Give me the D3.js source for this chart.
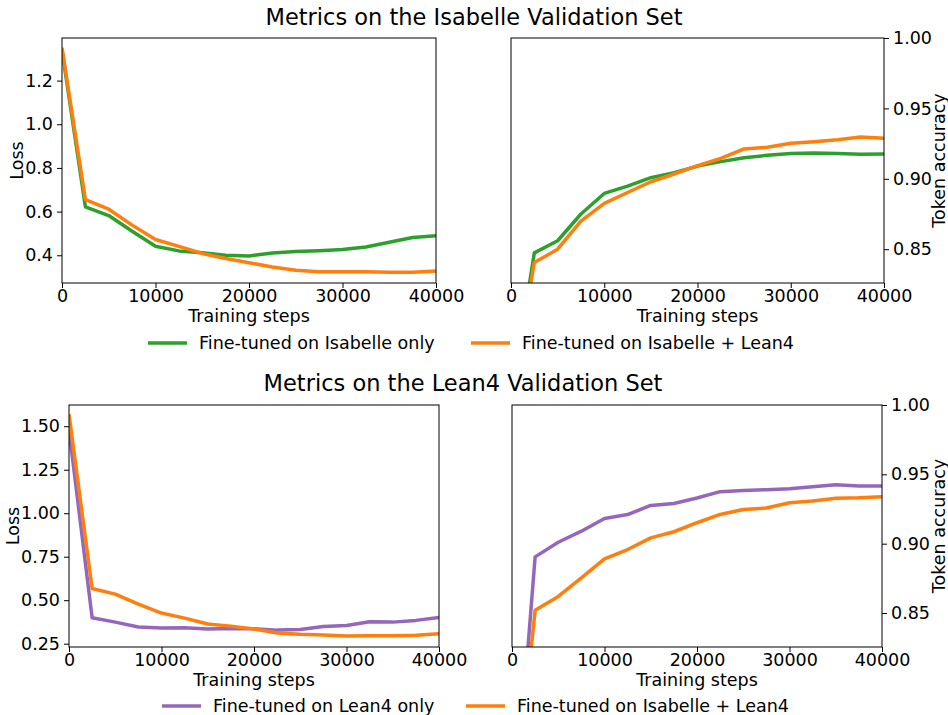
<!DOCTYPE html>
<html>
<head>
<meta charset="utf-8">
<script src="https://cdn.jsdelivr.net/npm/d3@7"></script>
<style>
  body { margin: 0; background: #fff; }
  text { font-family: "DejaVu Sans", sans-serif; fill: #000; }
  .tick text { font-size: 17.5px; }
  .domain { display: none; }
</style>
</head>
<body>
<div id="chart"></div>
<script>
// training steps (every 2500)
const steps = [0, 2500, 5000, 7500, 10000, 12500, 15000, 17500, 20000, 22500, 25000, 27500, 30000, 32500, 35000, 37500, 40000]

// Isabelle validation set
const isaLossIsaOnly  = [1.34, 0.622, 0.582, 0.51, 0.441, 0.42, 0.412, 0.40, 0.397, 0.41, 0.417, 0.421, 0.426, 0.438, 0.46, 0.481, 0.489]
const isaLossBoth     = [1.35, 0.655, 0.611, 0.538, 0.472, 0.441, 0.408, 0.385, 0.366, 0.346, 0.331, 0.325, 0.325, 0.325, 0.322, 0.322, 0.328]
const isaAccIsaOnly   = [0.742, 0.8474, 0.856, 0.875, 0.8896, 0.8948, 0.9008, 0.9043, 0.909, 0.9122, 0.915, 0.9167, 0.9179, 0.9183, 0.9179, 0.9174, 0.9176]
const isaAccBoth      = [0.742, 0.8405, 0.85, 0.870, 0.8825, 0.8903, 0.8979, 0.9034, 0.9093, 0.9145, 0.9212, 0.9224, 0.9252, 0.9264, 0.9278, 0.9297, 0.9288]

// Lean4 validation set
const leanLossLeanOnly = [1.48, 0.399, 0.374, 0.346, 0.34, 0.342, 0.334, 0.338, 0.336, 0.328, 0.332, 0.349, 0.355, 0.376, 0.374, 0.384, 0.401]
const leanLossBoth     = [1.569, 0.567, 0.535, 0.477, 0.426, 0.397, 0.363, 0.351, 0.334, 0.311, 0.304, 0.30, 0.294, 0.296, 0.296, 0.298, 0.307]
const leanAccLeanOnly  = [0.68, 0.8905, 0.901, 0.909, 0.9182, 0.921, 0.9276, 0.929, 0.9329, 0.9375, 0.9384, 0.9389, 0.9396, 0.9411, 0.9425, 0.9416, 0.9416]
const leanAccBoth      = [0.69, 0.852, 0.862, 0.8753, 0.889, 0.8958, 0.9042, 0.9086, 0.9151, 0.9211, 0.9247, 0.9257, 0.9295, 0.9307, 0.9327, 0.9331, 0.9339]

const xTicks = [0, 10000, 20000, 30000, 40000]
const lossTicksIsa = [0.4, 0.6, 0.8, 1.0, 1.2]
const lossTicksLean = [0.25, 0.50, 0.75, 1.00, 1.25, 1.50]
const accTicks = [0.85, 0.90, 0.95, 1.00]

const titles = ["Metrics on the Isabelle Validation Set", "Metrics on the Lean4 Validation Set"]
const legendIsa = ["Fine-tuned on Isabelle only", "Fine-tuned on Isabelle + Lean4"]
const legendLean = ["Fine-tuned on Lean4 only", "Fine-tuned on Isabelle + Lean4"]

const green = "#2ca02c", orange = "#ff7f0e", purple = "#9467bd"

const svg = d3.select('#chart').append('svg')
  .attr('width', 948)
  .attr('height', 715)

const panels = [
  {x0: 62, x1: 436, y0: 38, y1: 283, dom: [0.273, 1.395], ticks: lossTicksIsa, fmt: d3.format('.1f'), side: 'left', label: 'Loss', labelX: 17,
   series: [[isaLossIsaOnly, green], [isaLossBoth, orange]]},
  {x0: 511, x1: 884, y0: 38, y1: 283, dom: [0.826, 1.0], ticks: accTicks, fmt: d3.format('.2f'), side: 'right', label: 'Token accuracy', labelX: 939,
   series: [[isaAccIsaOnly, green], [isaAccBoth, orange]]},
  {x0: 69, x1: 439, y0: 405, y1: 647, dom: [0.231, 1.622], ticks: lossTicksLean, fmt: d3.format('.2f'), side: 'left', label: 'Loss', labelX: 13,
   series: [[leanLossLeanOnly, purple], [leanLossBoth, orange]]},
  {x0: 512, x1: 882, y0: 405, y1: 647, dom: [0.8255, 1.0], ticks: accTicks, fmt: d3.format('.2f'), side: 'right', label: 'Token accuracy', labelX: 939,
   series: [[leanAccLeanOnly, purple], [leanAccBoth, orange]]}
]

panels.forEach((p, i) => {
  let x = d3.scaleLinear().domain([0, 40000]).range([p.x0, p.x1])
  let y = d3.scaleLinear().domain(p.dom).range([p.y1, p.y0])

  svg.append('clipPath').attr('id', 'clip' + i)
    .append('rect')
    .attr('x', p.x0).attr('y', p.y0)
    .attr('width', p.x1 - p.x0).attr('height', p.y1 - p.y0)

  let line = d3.line()
    .x((d, j) => x(steps[j]))
    .y(d => y(d))

  let g = svg.append('g').attr('clip-path', `url(#clip${i})`)
  p.series.forEach(([vals, col]) => {
    g.append('path')
      .datum(vals)
      .attr('d', line)
      .attr('fill', 'none')
      .attr('stroke', col)
      .attr('stroke-width', 3.5)
      .attr('stroke-linejoin', 'round')
  })

  // frame
  svg.append('rect')
    .attr('x', p.x0).attr('y', p.y0)
    .attr('width', p.x1 - p.x0).attr('height', p.y1 - p.y0)
    .attr('fill', 'none').attr('stroke', '#000').attr('stroke-width', 1)

  svg.append('g')
    .attr('transform', `translate(0,${p.y1})`)
    .call(d3.axisBottom(x).tickValues(xTicks).tickFormat(d3.format('d')).tickSize(5).tickPadding(2))

  let yAxis = p.side === 'left' ? d3.axisLeft(y) : d3.axisRight(y)
  svg.append('g')
    .attr('transform', `translate(${p.side === 'left' ? p.x0 : p.x1},0)`)
    .call(yAxis.tickValues(p.ticks).tickFormat(p.fmt).tickSize(5).tickPadding(4))

  svg.append('text')
    .attr('x', (p.x0 + p.x1) / 2)
    .attr('y', p.y1 + 39)
    .attr('text-anchor', 'middle')
    .style('font-size', '17.5px')
    .text('Training steps')

  svg.append('text')
    .attr('transform', `translate(${p.labelX},${(p.y0 + p.y1) / 2}) rotate(-90)`)
    .attr('text-anchor', 'middle')
    .attr('dy', '0.35em')
    .style('font-size', '17.5px')
    .text(p.label)
})

svg.selectAll('.tick line').attr('stroke', '#000')

// titles
svg.append('text').attr('x', 474).attr('y', 25).attr('text-anchor', 'middle')
  .style('font-size', '22.5px').text(titles[0])
svg.append('text').attr('x', 463).attr('y', 391).attr('text-anchor', 'middle')
  .style('font-size', '22.5px').text(titles[1])

// legends
function legend(items, colors, ly, xs) {
  items.forEach((name, k) => {
    svg.append('line')
      .attr('x1', xs[k]).attr('x2', xs[k] + 39)
      .attr('y1', ly).attr('y2', ly)
      .attr('stroke', colors[k]).attr('stroke-width', 3.5)
    svg.append('text')
      .attr('x', xs[k] + 51).attr('y', ly).attr('dy', '0.35em')
      .style('font-size', '17.5px')
      .text(name)
  })
}
legend(legendIsa, [green, orange], 343, [148, 471])
legend(legendLean, [purple, orange], 706, [162, 466])
</script>
</body>
</html>
